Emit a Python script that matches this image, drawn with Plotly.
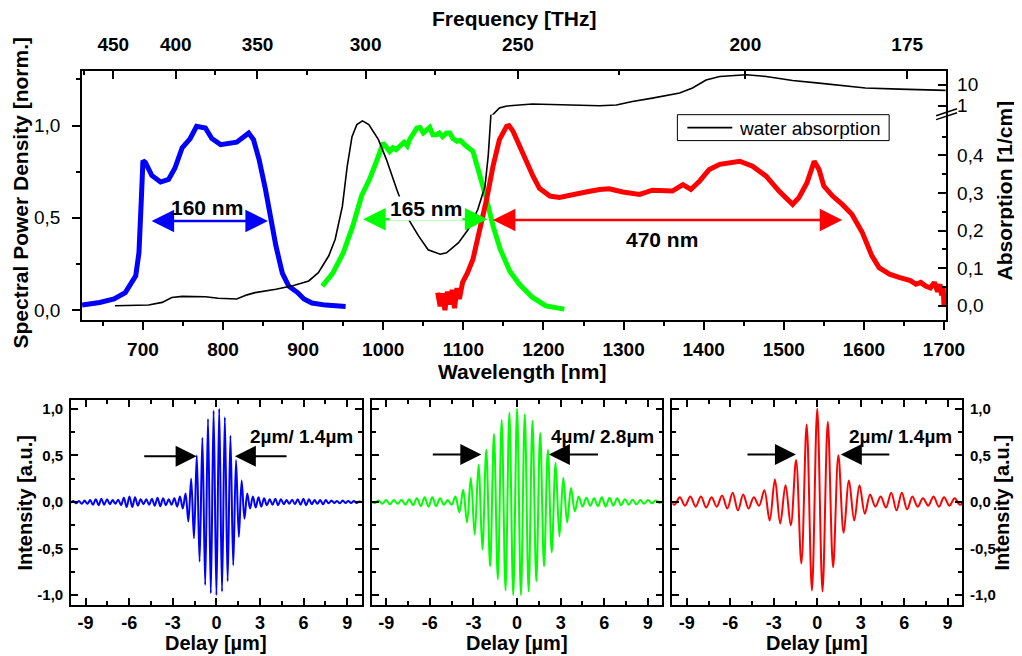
import numpy as np
import plotly.graph_objects as go

# ---------------- data ----------------
# spectra: wavelength [nm] and normalised spectral power density
blue_wl = [624, 646, 664, 678, 691, 695, 698, 700, 703, 711, 722, 732, 740, 749, 759, 767, 778, 786,
           797, 807, 817, 826, 832, 838, 845, 853, 859, 866, 874, 882, 893, 901, 911, 928, 953]
blue_psd = [0.027, 0.041, 0.06, 0.095, 0.186, 0.31, 0.6, 0.81, 0.80, 0.73, 0.694, 0.708, 0.77, 0.88,
            0.93, 0.996, 0.987, 0.93, 0.897, 0.906, 0.91, 0.94, 0.96, 0.924, 0.816, 0.654, 0.51, 0.348,
            0.20, 0.13, 0.095, 0.06, 0.038, 0.027, 0.02]

green_wl = [924, 937, 950, 962, 973, 983, 991, 1000, 1008, 1012, 1016, 1021, 1026, 1030, 1033, 1042,
            1046, 1050, 1054, 1058, 1062, 1067, 1070, 1074, 1079, 1083, 1087, 1092, 1096, 1100, 1104,
            1112, 1121, 1129, 1137, 1146, 1158, 1170, 1186, 1203, 1226]
green_psd = [0.13, 0.20, 0.31, 0.456, 0.62, 0.71, 0.80, 0.906, 0.86, 0.88, 0.87, 0.89, 0.91, 0.89, 0.925,
             0.987, 0.99, 0.96, 0.978, 0.99, 0.95, 0.951, 0.96, 0.94, 0.96, 0.96, 0.93, 0.915, 0.92, 0.90,
             0.888, 0.86, 0.726, 0.60, 0.456, 0.33, 0.21, 0.14, 0.07, 0.023, 0.005]

red_wl = [1068, 1071, 1074, 1077, 1080, 1083, 1086, 1089, 1092, 1095, 1099, 1105, 1112, 1120, 1129, 1137,
          1145, 1154, 1157, 1162, 1174, 1187, 1195, 1208, 1220, 1236, 1253, 1270, 1282, 1299, 1320, 1336,
          1361, 1374, 1384, 1395, 1407, 1420, 1436, 1445, 1461, 1478, 1494, 1511, 1519, 1529, 1538, 1544,
          1550, 1561, 1573, 1585, 1598, 1610, 1619, 1632, 1644, 1652, 1658, 1665, 1671, 1677, 1683, 1688,
          1692, 1695, 1697, 1699, 1700]
red_psd = [0.095, 0.02, 0.09, 0.0, 0.10, 0.03, 0.11, 0.01, 0.12, 0.06, 0.15, 0.20, 0.276, 0.42, 0.60, 0.78,
           0.924, 0.996, 1.0, 0.97, 0.85, 0.726, 0.66, 0.618, 0.61, 0.627, 0.64, 0.654, 0.658, 0.64, 0.627,
           0.65, 0.645, 0.68, 0.654, 0.70, 0.762, 0.79, 0.80, 0.807, 0.78, 0.726, 0.645, 0.573, 0.61, 0.69,
           0.807, 0.762, 0.672, 0.618, 0.573, 0.52, 0.42, 0.294, 0.23, 0.195, 0.177, 0.168, 0.16, 0.14,
           0.15, 0.13, 0.12, 0.15, 0.10, 0.14, 0.08, 0.12, 0.02]

# water absorption [1/cm]: linear part (below the axis break) and log part (above it)
water_lo_wl = [665, 707, 724, 736, 749, 778, 794, 817, 830, 840, 866, 887, 907, 919, 932, 940, 949, 955,
               961, 967, 974, 982, 994, 1004, 1017, 1029, 1044, 1056, 1071, 1079, 1094, 1106, 1118, 1127,
               1131, 1134, 1136]
water_lo_abs = [0.0, 0.002, 0.009, 0.022, 0.025, 0.024, 0.020, 0.018, 0.029, 0.035, 0.044, 0.053, 0.066,
                0.088, 0.133, 0.177, 0.265, 0.371, 0.45, 0.482, 0.492, 0.482, 0.442, 0.389, 0.309, 0.239,
                0.186, 0.149, 0.137, 0.141, 0.168, 0.203, 0.256, 0.318, 0.398, 0.495, 0.56]
water_hi_wl = [1136, 1139, 1145, 1153, 1158, 1186, 1228, 1270, 1291, 1311, 1336, 1370, 1386, 1403, 1420,
               1453, 1478, 1511, 1544, 1577, 1602, 1644, 1702]
water_hi_abs = [0.35, 0.45, 0.78, 0.95, 1.0, 1.2, 1.12, 1.0, 1.08, 1.6, 2.3, 4.0, 7.0, 17, 25, 30, 25, 16,
                12, 9, 7, 6.2, 5.4]

# top axis: frequency tick labels [THz] and where they sit on the wavelength axis [nm]
freq_labels = ["450", "400", "350", "300", "250", "200", "175"]
freq_pos_nm = [663, 741, 843, 978, 1168, 1452, 1654]
freq_minor_pos_nm = [627, 790, 905, 1064, 1294]

# FWHM markers (wavelength start/end, level) and labels
span_blue = (709, 856, 0.483, "160 nm", 780, 0.557)
span_green = (973, 1130, 0.492, "165 nm", 1053, 0.551)
span_red = (1135, 1573, 0.488, "470 nm", 1348, 0.384)

# interferograms: successive fringe extrema (values) on a uniform delay grid [µm]
blue_half_period = 0.193
blue_extrema = [
    -0.01, 0.01, -0.015, 0.01, -0.02, 0.015, -0.02, 0.02, -0.03, 0.03, -0.035, 0.035, -0.03, 0.03,
    -0.025, 0.02, -0.02, 0.025, -0.035, 0.045, -0.055, 0.06, -0.055, 0.05, -0.04, 0.03, -0.025, 0.03,
    -0.03, 0.035, -0.04, 0.045, -0.045, 0.04, -0.035, 0.03, -0.03, 0.04, -0.05, 0.06, -0.07, 0.09,
    -0.21, 0.25, -0.39, 0.5, -0.64, 0.69, -0.89, 0.89, -0.98, 0.98, -1.0, 1.0, -0.96, 0.91, -0.85, 0.71,
    -0.68, 0.45, -0.375, 0.23, -0.18, 0.09,
    -0.07, 0.06, -0.06, 0.05, -0.05, 0.04, -0.035, 0.03, -0.03, 0.035, -0.035, 0.03, -0.025, 0.02,
    -0.02, 0.025, -0.025, 0.03, -0.03, 0.035, -0.035, 0.03, -0.025, 0.02, -0.02, 0.02, -0.025, 0.02,
    -0.015, 0.015, -0.01, 0.01, -0.015, 0.015, -0.01, 0.01, -0.01, 0.01, -0.01, 0.005, -0.005]
green_half_period = 0.265
green_extrema = [
    0.01, -0.015, 0.015, -0.02, 0.02, -0.025, 0.02, -0.02, 0.025, -0.03, 0.03, -0.035, 0.04, -0.045,
    0.05, -0.05, 0.05, -0.045, 0.04, -0.03, 0.02, -0.03, 0.06,
    -0.11, 0.13, -0.22, 0.26, -0.35, 0.40, -0.51, 0.56, -0.69, 0.73, -0.83, 0.88, -0.95, 0.96, -1.0,
    1.0, -1.0, 0.94, -0.96, 0.87, -0.85, 0.74, -0.69, 0.56, -0.54, 0.42, -0.37, 0.26, -0.22, 0.15, -0.10,
    0.06, -0.05, 0.045, -0.04, 0.04, -0.045, 0.05, -0.05, 0.045, -0.04, 0.04, -0.035, 0.03, -0.03,
    0.025, -0.025, 0.02, -0.02, 0.02, -0.015, 0.015, -0.01, 0.01]
red_half_period = 0.365
red_extrema = [
    0.03, -0.03, 0.05, -0.04, 0.06, -0.05, 0.06, -0.06, 0.05, -0.05, 0.07, -0.07, 0.10, -0.09, 0.08,
    -0.07, 0.05, -0.04,
    0.125, -0.20, 0.24, -0.23, 0.18, -0.25, 0.45, -0.66, 0.83, -0.95, 1.0, -0.96, 0.86, -0.70, 0.50,
    -0.33, 0.23, -0.20, 0.18, -0.125, 0.08,
    -0.05, 0.06, -0.06, 0.10, -0.09, 0.10, -0.08, 0.06, -0.05, 0.04, -0.04, 0.06, -0.05, 0.05, -0.04,
    0.04, -0.03, 0.02]

delay_ticks = [-9, -6, -3, 0, 3, 6, 9]
delay_ticktext = ["-9", "-6", "-3", "0", "3", "6", "9"]
int_ticks = [-1.0, -0.5, 0.0, 0.5, 1.0]
int_ticktext = ["-1,0", "-0,5", "0,0", "0,5", "1,0"]

# FWHM arrows in delay panels: (left tail, left head, right tail, right head, level, label, label x)
fwhm_blue = (-5.07, -1.36, 4.93, 1.27, 0.49, "2µm/ 1.4µm", 2.17)
fwhm_green = (-5.9, -2.46, 5.67, 2.19, 0.508, "4µm/ 2.8µm", 2.23)
fwhm_red = (-4.92, -1.47, 5.08, 1.63, 0.508, "2µm/ 1.4µm", 2.07)

# ---------------- styling / layout helpers ----------------
# page body keeps its default 8 px margin; the captured picture is horizontally
# scaled by about 1022/1040, which the helpers below compensate for
BODY_MARGIN = 8
KX = 1022 / 1040
W, H = 1032, 656
FONT = "Liberation Sans, Arial, sans-serif"
BLUE, GREEN, RED = "#0000ff", "#00ff00", "#ff0000"


def px(x):
    """picture pixel x -> paper coordinate"""
    return (x / KX - BODY_MARGIN) / W


def py(y):
    """picture pixel y -> paper coordinate"""
    return 1 - (y - BODY_MARGIN) / H


def f(size, bold=False, color="black"):
    d = dict(family=FONT, size=size, color=color)
    if bold:
        d["weight"] = "bold"
    return d


fig = go.Figure()

# ---- top panel spectra ----
for wl, v, c in [(blue_wl, blue_psd, BLUE), (green_wl, green_psd, GREEN), (red_wl, red_psd, RED)]:
    fig.add_trace(go.Scatter(x=wl, y=v, mode="lines", line=dict(color=c, width=5),
                             showlegend=False, hoverinfo="skip", xaxis="x", yaxis="y"))
# dummy trace for the frequency axis
fig.add_trace(go.Scatter(x=[None], y=[None], mode="lines", showlegend=False,
                         hoverinfo="skip", xaxis="x2", yaxis="y"))
fig.add_trace(go.Scatter(x=water_lo_wl, y=water_lo_abs, mode="lines", name="water absorption",
                         line=dict(color="black", width=1.6), showlegend=False,
                         hoverinfo="skip", xaxis="x", yaxis="y2"))
fig.add_trace(go.Scatter(x=water_hi_wl, y=water_hi_abs, mode="lines",
                         line=dict(color="black", width=1.6), showlegend=False,
                         hoverinfo="skip", xaxis="x", yaxis="y3"))

# ---- interferograms ----
panels = [("x3", "y4", blue_extrema, blue_half_period, BLUE, fwhm_blue),
          ("x4", "y5", green_extrema, green_half_period, GREEN, fwhm_green),
          ("x5", "y6", red_extrema, red_half_period, RED, fwhm_red)]
for xa, ya, ext, hp, c, _ in panels:
    n = (len(ext) - 1) // 2
    delay = np.arange(-n, n + 1) * hp
    fig.add_trace(go.Scatter(x=delay, y=ext, mode="lines",
                             line=dict(color=c, width=2, shape="spline", smoothing=1.0),
                             showlegend=False, hoverinfo="skip", xaxis=xa, yaxis=ya))

# ---------------- axes ----------------
common = dict(showgrid=False, zeroline=False, showline=True, linecolor="black", linewidth=1.8,
              tickcolor="black", tickwidth=1.5)

top_dom_x = [px(82), px(947)]
xr = [624, 1702.6]
layout = dict(
    xaxis=dict(**common, domain=top_dom_x, range=xr, anchor="y", ticks="outside", ticklen=8,
               tick0=0, dtick=100, tickfont=f(19, True), ticklabelstandoff=3,
               minor=dict(dtick=50, tick0=0, ticks="outside", ticklen=4, tickwidth=1.5, tickcolor="black")),
    xaxis2=dict(**common, domain=top_dom_x, range=xr, anchor="y", overlaying="x", side="top",
                ticks="inside", ticklen=8, tickmode="array", tickvals=freq_pos_nm, ticktext=freq_labels,
                tickfont=f(19, True), ticklabelstandoff=10,
                minor=dict(tickmode="array", tickvals=freq_minor_pos_nm, ticks="inside", ticklen=4,
                           tickwidth=1.5, tickcolor="black")),
    yaxis=dict(**common, domain=[py(321), py(71)], range=[-0.054, 1.297], anchor="x", mirror=True,
               ticks="outside", ticklen=8, tickmode="array", tickvals=[0, 0.5, 1.0],
               ticktext=["0,0", "0,5", "1,0"], tickfont=f(19), ticklabelstandoff=8,
               minor=dict(tickmode="array", tickvals=[0.25, 0.75, 1.25], ticks="outside", ticklen=4,
                          tickwidth=1.5, tickcolor="black")),
    yaxis2=dict(showgrid=False, zeroline=False, showline=False, tickcolor="black", tickwidth=1.5,
                domain=[py(321), py(115)], range=[-0.038, 0.5085], anchor="x", side="right",
                ticks="inside", ticklen=8, tickmode="array", tickvals=[0, 0.1, 0.2, 0.3, 0.4],
                ticktext=["0,0", "0,1", "0,2", "0,3", "0,4"], tickfont=f(19), ticklabelstandoff=10,
                minor=dict(tickmode="array", tickvals=[0.05, 0.15, 0.25, 0.35, 0.45], ticks="inside",
                           ticklen=4, tickwidth=1.5, tickcolor="black")),
    yaxis3=dict(showgrid=False, zeroline=False, showline=False, tickcolor="black", tickwidth=1.5,
                type="log", domain=[py(115), py(71)], range=[-0.4286, 1.667], anchor="x", side="right",
                ticks="inside", ticklen=8, tickmode="array", tickvals=[1, 10], ticktext=["1", "10"],
                tickfont=f(19), ticklabelstandoff=10),
)

bx_doms = [[px(71), px(362)], [px(372), px(663)], [px(673), px(963)]]
by_dom = [py(607), py(401)]
for i, (xa, ya, _, _, _, _) in enumerate(panels):
    xk = "xaxis" + xa[1:]
    yk = "yaxis" + ya[1:]
    layout[xk] = dict(**common, domain=bx_doms[i], range=[-10, 10], anchor=ya, mirror="ticks",
                      ticks="inside", ticklen=7, tickmode="array", tickvals=delay_ticks,
                      ticktext=delay_ticktext, tickfont=f(18, True), ticklabelstandoff=0,
                      minor=dict(tickmode="array", tickvals=[-7.5, -4.5, -1.5, 1.5, 4.5, 7.5],
                                 ticks="inside", ticklen=4, tickwidth=1.5, tickcolor="black"))
    layout[yk] = dict(**common, domain=by_dom, range=[-1.107, 1.096], anchor=xa, mirror="ticks",
                      ticks="inside", ticklen=7, tickmode="array", tickvals=int_ticks,
                      ticktext=int_ticktext, tickfont=f(15, True), ticklabelstandoff=3,
                      showticklabels=(i != 1), side=("right" if i == 2 else "left"),
                      minor=dict(tickmode="array", tickvals=[-0.75, -0.25, 0.25, 0.75],
                                 ticks="inside", ticklen=4, tickwidth=1.5, tickcolor="black"))

# ---------------- annotations ----------------
ann = []


def title(text, x, y, size=21, angle=0, bold=True, xanchor="center"):
    ann.append(dict(text=text, x=px(x), y=py(y), xref="paper", yref="paper", showarrow=False,
                    font=f(size, bold), textangle=angle, xanchor=xanchor, yanchor="middle"))


title("Frequency [THz]", 515, 19)
title("Wavelength [nm]", 522, 373)
title("Spectral Power Density [norm.]", 20, 193, angle=-90)
title("Absorption [1/cm]", 1005, 191, angle=-90)
for cx in [216.5, 517.5, 818]:
    title("Delay [µm]", cx, 645, size=20)
title("Intensity [a.u.]", 25, 504, size=20, angle=-90)
title("Intensity [a.u.]", 1003, 504, size=20, angle=-90)

for (x0, x1, lev, lab, lx, ly), c in [(span_blue, BLUE), (span_green, GREEN), (span_red, RED)]:
    ann.append(dict(x=x1, y=lev, ax=x0, ay=lev, xref="x", yref="y", axref="x", ayref="y", text="",
                    showarrow=True, arrowhead=2, startarrowhead=2, arrowside="end+start",
                    arrowsize=1.8, startarrowsize=1.8, arrowwidth=2.5, arrowcolor=c))
    ann.append(dict(x=lx, y=ly, xref="x", yref="y", text=lab, showarrow=False, font=f(21, True),
                    bgcolor="white" if c == GREEN else None, borderpad=0))

for xa, ya, _, _, _, (lt, lh, rt, rh, lev, lab, lx) in panels:
    for t, h in [(lt, lh), (rt, rh)]:
        ann.append(dict(x=h, y=lev, ax=t, ay=lev, xref=xa, yref=ya, axref=xa, ayref=ya, text="",
                        showarrow=True, arrowhead=2, arrowsize=2.1, arrowwidth=2, arrowcolor="black"))
    ann.append(dict(x=lx, y=0.70, xref=xa, yref=ya, text=lab, showarrow=False, font=f(19, True),
                    xanchor="left", yanchor="middle"))

# legend box for the water absorption curve
shapes = [
    dict(type="rect", xref="paper", yref="paper", x0=px(678), x1=px(890), y0=py(141), y1=py(115),
         line=dict(color="black", width=1), fillcolor="white", layer="above"),
    dict(type="line", xref="paper", yref="paper", x0=px(688), x1=px(733), y0=py(128), y1=py(128),
         line=dict(color="black", width=1.6), layer="above"),
]
title("water absorption", 738, 128.5, size=19, bold=False, xanchor="left")

# axis-break marks on the right axis
for dy in (0, 4):
    shapes.append(dict(type="line", xref="paper", yref="paper", x0=px(937), y0=py(120 - dy),
                       x1=px(958), y1=py(113 - dy), line=dict(color="black", width=1.5)))

fig.update_layout(
    **layout,
    annotations=ann,
    shapes=shapes,
    width=W, height=H,
    margin=dict(l=0, r=0, t=0, b=0),
    paper_bgcolor="white", plot_bgcolor="rgba(0,0,0,0)",
    font=f(19),
    showlegend=False,
)

fig.write_html("out.html")
